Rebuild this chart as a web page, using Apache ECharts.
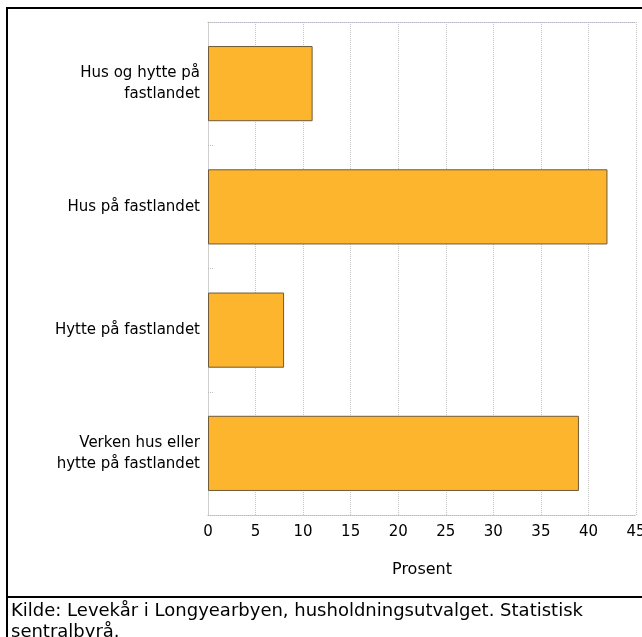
<!DOCTYPE html>
<html><head><meta charset="utf-8">
<script src="https://cdn.jsdelivr.net/npm/echarts@6/dist/echarts.min.js"></script>
<style>html,body{margin:0;padding:0;background:#fff}#c{width:642px;height:637px}</style>
</head><body><div id="c"></div>
<script>
const categories = ["Hus og hytte på\nfastlandet", "Hus på fastlandet", "Hytte på fastlandet", "Verken hus eller\nhytte på fastlandet"];
const values = [11, 42, 8, 39];
const xTicks = { min: 0, max: 45, interval: 5 };
const axisName = "Prosent";
const sourceText = "Kilde: Levekår i Longyearbyen, husholdningsutvalget. Statistisk\nsentralbyrå.";

const chart = echarts.init(document.getElementById('c'), null, {renderer: 'canvas'});
const font = "'DejaVu Sans', sans-serif";
chart.setOption({
  animation: false,
  textStyle: { fontFamily: font },
  grid: { left: 208, top: 22, right: 6, bottom: 122, containLabel: false, outerBoundsMode: 'none' },
  xAxis: [{
    type: 'value', position: 'bottom',
    min: xTicks.min, max: xTicks.max, interval: xTicks.interval,
    axisLine: { show: true, lineStyle: { color: '#b8b8c8', type: 'dotted', width: 1 } },
    axisTick: { show: false },
    axisLabel: { color: '#000', fontSize: 15, margin: 10, fontFamily: font },
    splitLine: { show: true, lineStyle: { color: '#c4c4c4', type: 'dotted', width: 1 } },
    name: axisName, nameLocation: 'middle', nameGap: 47,
    nameTextStyle: { color: '#000', fontSize: 16, fontFamily: font }
  }, {
    type: 'value', position: 'top',
    min: xTicks.min, max: xTicks.max, interval: xTicks.interval,
    axisLine: { show: true, lineStyle: { color: '#b8b8c8', type: 'dotted', width: 1 } },
    axisTick: { show: false }, axisLabel: { show: false }, splitLine: { show: false }
  }],
  yAxis: {
    type: 'category', inverse: true, data: categories,
    axisLine: { show: true, lineStyle: { color: '#cfcfcf', width: 1 } },
    axisTick: { show: true, inside: true, length: 6, lineStyle: { color: '#bbbbbb', type: 'dotted' } },
    axisLabel: { color: '#000', fontSize: 15, margin: 8, lineHeight: 21, align: 'right', fontFamily: font },
    splitLine: { show: false }
  },
  series: [{
    type: 'bar', data: values, xAxisIndex: 0,
    barCategoryGap: '39%',
    itemStyle: { color: '#FDB52E', borderColor: '#6f5a3a', borderWidth: 1 }
  }],
  graphic: [
    { type: 'rect', shape: { x: 7, y: 8, width: 650, height: 640 }, style: { fill: null, stroke: '#000', lineWidth: 2 }, z: 10 },
    { type: 'line', shape: { x1: 7, y1: 597, x2: 650, y2: 597 }, style: { stroke: '#000', lineWidth: 2 }, z: 10 },
    { type: 'text', left: 11, top: 601, style: { text: sourceText, fill: '#000', font: "18px " + font, lineHeight: 21 }, z: 10 }
  ]
});
</script></body></html>
